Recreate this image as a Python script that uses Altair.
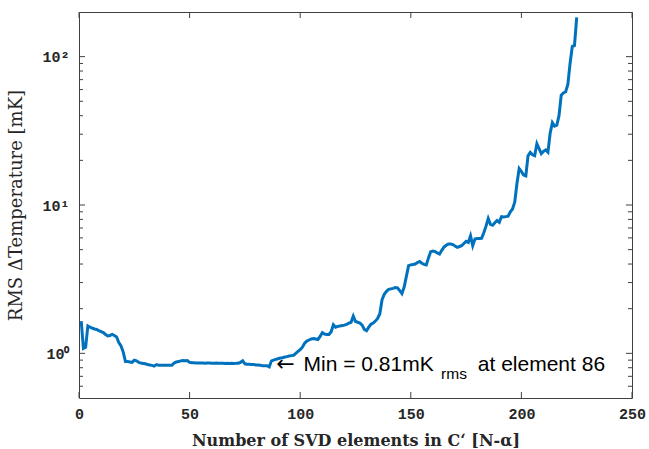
import altair as alt
import pandas as pd

# ---- data ----
elements = list(range(1, 226))
rms_mK = [
    1.65, 1.08, 1.10, 1.53, 1.50, 1.48, 1.46, 1.45, 1.42, 1.40,   # 1-10
    1.38, 1.34, 1.31, 1.32, 1.34, 1.32, 1.29, 1.18, 1.12, 1.02,   # 11-20
    0.88, 0.88, 0.875, 0.87, 0.90, 0.89, 0.87, 0.86, 0.855, 0.85,  # 21-30
    0.84, 0.835, 0.83, 0.82, 0.84, 0.83, 0.83, 0.83, 0.83, 0.83,  # 31-40
    0.83, 0.83, 0.86, 0.875, 0.88, 0.89, 0.895, 0.89, 0.895, 0.87,  # 41-50
    0.865, 0.865, 0.86, 0.86, 0.862, 0.86, 0.858, 0.86, 0.86, 0.857,  # 51-60
    0.858, 0.86, 0.856, 0.856, 0.858, 0.855, 0.856, 0.855, 0.857, 0.855,  # 61-70
    0.856, 0.858, 0.87, 0.89, 0.85, 0.845, 0.845, 0.84, 0.84, 0.835,  # 71-80
    0.835, 0.83, 0.825, 0.825, 0.825, 0.81, 0.89, 0.90, 0.91, 0.92,  # 81-90
    0.93, 0.935, 0.945, 0.95, 0.96, 0.965, 0.97, 1.00, 1.03, 1.06,  # 91-100
    1.10, 1.17, 1.21, 1.23, 1.25, 1.26, 1.25, 1.24, 1.30, 1.38,   # 101-110
    1.35, 1.34, 1.34, 1.40, 1.56, 1.50, 1.52, 1.53, 1.54, 1.55,   # 111-120
    1.57, 1.60, 1.62, 1.78, 1.64, 1.62, 1.60, 1.55, 1.45, 1.42,   # 121-130
    1.50, 1.57, 1.60, 1.65, 1.72, 1.85, 2.30, 2.50, 2.62, 2.70,   # 131-140
    2.72, 2.74, 2.78, 2.76, 2.65, 2.53, 2.80, 3.30, 3.90, 3.95,   # 141-150
    3.97, 4.00, 4.10, 4.16, 4.05, 3.98, 3.94, 4.40, 4.85, 4.90,   # 151-160
    4.85, 4.75, 4.67, 4.95, 5.20, 5.35, 5.45, 5.45, 5.41, 5.30,   # 161-170
    5.18, 5.25, 5.32, 5.50, 5.69, 5.60, 6.20, 5.32, 5.90, 5.95,   # 171-180
    5.95, 5.97, 6.50, 7.20, 8.10, 7.40, 7.30, 7.60, 7.86, 7.64,   # 181-190
    8.35, 8.30, 8.35, 8.40, 9.00, 9.40, 10.5, 14.0, 17.6, 16.8,   # 191-200
    15.9, 15.7, 21.5, 22.6, 21.8, 21.5, 25.9, 24.0, 22.2, 23.0,   # 201-210
    23.5, 22.7, 30.5, 35.9, 34.0, 34.5, 40.0, 55.0, 57.0, 58.0,   # 211-220
    65.0, 90.0, 117.0, 119.0, 184.0,                              # 221-225
]

x_ticks = [0, 50, 100, 150, 200, 250]
y_major = [1, 10, 100]
y_minor = [0.6, 0.7, 0.8, 0.9, 2, 3, 4, 5, 6, 7, 8, 9,
           20, 30, 40, 50, 60, 70, 80, 90]

arrow_x, arrow_y = [89.2], [0.846]
main_x, main_y = [101.5], [0.759]
sub_x, sub_y = [163.7], [0.672]
tail_x, tail_y = [180.3], [0.759]

W, H = 553, 386
AX = "#404040"
XS = alt.Scale(domain=[0, 250], nice=False, zero=False)
YS = alt.Scale(type="log", domain=[0.5, 200], nice=False)

X_AXIS = alt.Axis(values=x_ticks, ticks=False, domain=False, grid=False,
                  labelFlush=False,
                  labelFont="Liberation Mono", labelFontWeight="bold",
                  labelFontSize=15, labelColor="#262626", labelPadding=8,
                  title="Number of SVD elements in C‘ [N-α]",
                  titleFont="DejaVu Serif", titleFontWeight="bold",
                  titleFontSize=16, titleColor="#262626",
                  titleX=W / 2, titleY=47, titleBaseline="alphabetic")
Y_AXIS = alt.Axis(values=y_major, ticks=False, domain=False, grid=False,
                  labelFlush=False,
                  labelExpr="datum.value == 1 ? '10⁰' : (datum.value == 10 ? '10¹' : '10²')",
                  labelFont="Liberation Mono", labelFontWeight="bold",
                  labelFontSize=15, labelColor="#262626", labelPadding=10,
                  title="RMS ΔTemperature [mK]",
                  titleFont="DejaVu Serif", titleFontWeight="normal",
                  titleFontSize=18, titleColor="#262626",
                  titleX=-54, titleY=H / 2, titleBaseline="bottom")


def xenc():
    return alt.X("element:Q", scale=XS, axis=X_AXIS)


def yenc():
    return alt.Y("rms:Q", scale=YS, axis=Y_AXIS)


df = pd.DataFrame({"element": elements, "rms": rms_mK})

line = alt.Chart(df).mark_line(color="#0072BD", strokeWidth=3, clip=True).encode(
    x=xenc(), y=yenc())

xt = pd.DataFrame({"element": x_ticks})
ymaj = pd.DataFrame({"rms": y_major})
ymin = pd.DataFrame({"rms": y_minor})


def xrule(y0, y1):
    return alt.Chart(xt).mark_rule(color=AX, strokeWidth=1).encode(
        x=xenc(), y=alt.value(y0), y2=alt.value(y1))


def yrule(data, x0, x1):
    return alt.Chart(data).mark_rule(color=AX, strokeWidth=1).encode(
        y=yenc(), x=alt.value(x0), x2=alt.value(x1))


ticks = [
    xrule(H, H - 6), xrule(0, 6),
    yrule(ymaj, 0, 6), yrule(ymaj, W, W - 6),
    yrule(ymin, 0, 4), yrule(ymin, W, W - 4),
]


def label(xs, ys, txt, size, baseline, font="Liberation Sans"):
    d = pd.DataFrame({"element": xs, "rms": ys, "t": [txt]})
    return alt.Chart(d).mark_text(align="left", baseline=baseline, font=font,
                                  fontSize=size, color="#000000").encode(
        x=xenc(), y=yenc(), text="t:N")


texts = [
    label(arrow_x, arrow_y, "←", 22, "middle", font="DejaVu Sans"),
    label(main_x, main_y, "Min = 0.81mK", 21, "alphabetic"),
    label(sub_x, sub_y, "rms", 15.5, "alphabetic"),
    label(tail_x, tail_y, "at element 86", 21, "alphabetic"),
]

chart = alt.layer(line, *ticks, *texts).properties(
    width=W, height=H,
    autosize=alt.AutoSizeParams(type="none"),
    padding={"left": 79, "top": 12, "right": 17, "bottom": 51},
    background="white",
).configure_view(stroke=AX, strokeWidth=1)

chart.save("out.html", embed_options={"renderer": "svg", "actions": False})
